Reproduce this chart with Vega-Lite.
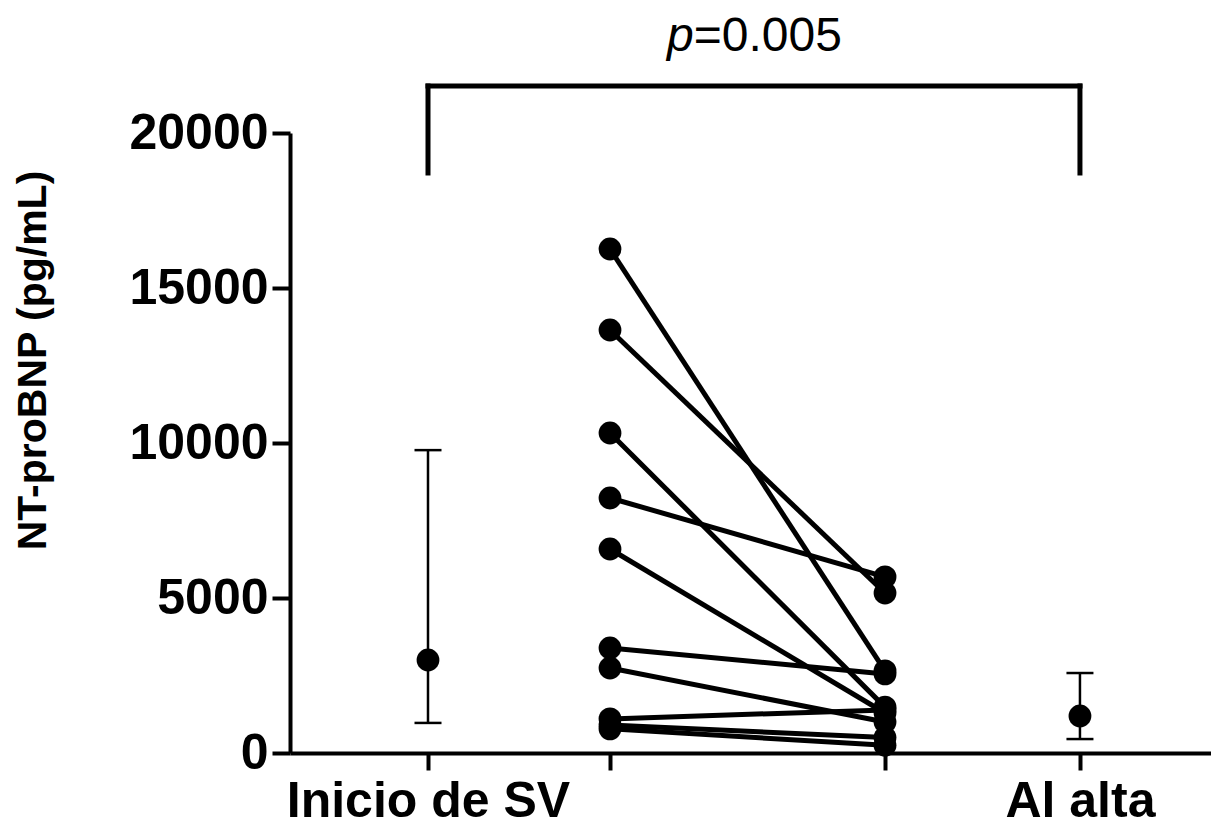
{
  "$schema": "https://vega.github.io/schema/vega-lite/v6.json",
  "width": 921,
  "height": 620,
  "autosize": {"type": "none"},
  "padding": {"left": 290, "top": 133, "right": 0, "bottom": 74},
  "background": "white",
  "config": {
    "view": {"stroke": null},
    "font": "Liberation Sans",
    "axis": {"grid": false, "domainColor": "black", "tickColor": "black", "labelColor": "black", "titleColor": "black"}
  },
  "datasets": {
    "pairs": [
      {"id": "A", "pos": 2, "value": 16258}, {"id": "A", "pos": 3.511, "value": 2650},
      {"id": "B", "pos": 2, "value": 13645}, {"id": "B", "pos": 3.511, "value": 5160},
      {"id": "C", "pos": 2, "value": 10323}, {"id": "C", "pos": 3.511, "value": 1480},
      {"id": "D", "pos": 2, "value": 8226}, {"id": "D", "pos": 3.511, "value": 5680},
      {"id": "E", "pos": 2, "value": 6581}, {"id": "E", "pos": 3.511, "value": 1290},
      {"id": "F", "pos": 2, "value": 3387}, {"id": "F", "pos": 3.511, "value": 2550},
      {"id": "G", "pos": 2, "value": 2742}, {"id": "G", "pos": 3.511, "value": 1000},
      {"id": "H", "pos": 2, "value": 1100}, {"id": "H", "pos": 3.511, "value": 1390},
      {"id": "I", "pos": 2, "value": 900}, {"id": "I", "pos": 3.511, "value": 500},
      {"id": "J", "pos": 2, "value": 780}, {"id": "J", "pos": 3.511, "value": 250}
    ],
    "summary": [
      {"group": "Inicio de SV", "pos": 1, "median": 3000, "lo": 970, "hi": 9770},
      {"group": "Al alta", "pos": 4.582, "median": 1194, "lo": 450, "hi": 2580}
    ],
    "bracket": [
      {"x": 1, "x2": 4.582, "y": 21516, "y2": 21516},
      {"x": 1, "x2": 1, "y": 18710, "y2": 21516},
      {"x": 4.582, "x2": 4.582, "y": 18710, "y2": 21516}
    ],
    "annot": [{"x": 2.46, "y": 22650, "a": "p", "b": "=0.005"}]
  },
  "layer": [
    {
      "data": {"name": "pairs"},
      "mark": {"type": "line", "color": "black", "strokeWidth": 5},
      "encoding": {
        "x": {
          "field": "pos", "type": "quantitative",
          "scale": {"domain": [0.2418, 5.302], "nice": false, "zero": false},
          "axis": {
            "values": [1, 2, 3.511, 4.582],
            "labelExpr": "datum.value == 1 ? 'Inicio de SV' : (datum.value > 4 ? 'Al alta' : '')",
            "title": null,
            "tickSize": 17, "tickWidth": 4, "domainWidth": 4,
            "labelFontSize": 50, "labelFontWeight": "bold", "labelPadding": 6,
            "labelFlush": false, "labelOverlap": false, "labelLimit": 0
          }
        },
        "y": {
          "field": "value", "type": "quantitative",
          "scale": {"domain": [0, 20000], "nice": false},
          "axis": {
            "values": [0, 5000, 10000, 15000, 20000],
            "format": "d",
            "title": "NT-proBNP (pg/mL)",
            "titleFontSize": 41, "titleFontWeight": "bold",
            "titleX": -245, "titleY": 227, "titleBaseline": "alphabetic", "titleAngle": -90,
            "titleLimit": 0,
            "tickSize": 18, "tickWidth": 4, "domainWidth": 4,
            "labelFontSize": 50, "labelFontWeight": "bold", "labelPadding": 4,
            "labelOverlap": false, "labelLimit": 0
          }
        },
        "detail": {"field": "id"}
      }
    },
    {
      "data": {"name": "pairs"},
      "mark": {"type": "point", "filled": true, "color": "black", "size": 520, "opacity": 1},
      "encoding": {
        "x": {"field": "pos", "type": "quantitative"},
        "y": {"field": "value", "type": "quantitative"}
      }
    },
    {
      "data": {"name": "summary"},
      "mark": {"type": "rule", "color": "black", "strokeWidth": 2.5},
      "encoding": {
        "x": {"field": "pos", "type": "quantitative"},
        "y": {"field": "lo", "type": "quantitative"},
        "y2": {"field": "hi"}
      }
    },
    {
      "data": {"name": "summary"},
      "mark": {"type": "tick", "orient": "horizontal", "color": "black", "size": 27, "thickness": 2.5, "opacity": 1},
      "encoding": {
        "x": {"field": "pos", "type": "quantitative"},
        "y": {"field": "lo", "type": "quantitative"}
      }
    },
    {
      "data": {"name": "summary"},
      "mark": {"type": "tick", "orient": "horizontal", "color": "black", "size": 27, "thickness": 2.5, "opacity": 1},
      "encoding": {
        "x": {"field": "pos", "type": "quantitative"},
        "y": {"field": "hi", "type": "quantitative"}
      }
    },
    {
      "data": {"name": "summary"},
      "mark": {"type": "point", "filled": true, "color": "black", "size": 520, "opacity": 1},
      "encoding": {
        "x": {"field": "pos", "type": "quantitative"},
        "y": {"field": "median", "type": "quantitative"}
      }
    },
    {
      "data": {"name": "bracket"},
      "mark": {"type": "rule", "color": "black", "strokeWidth": 5, "strokeCap": "square"},
      "encoding": {
        "x": {"field": "x", "type": "quantitative"},
        "x2": {"field": "x2"},
        "y": {"field": "y", "type": "quantitative"},
        "y2": {"field": "y2"}
      }
    },
    {
      "data": {"name": "annot"},
      "mark": {"type": "text", "align": "right", "baseline": "alphabetic", "fontSize": 48, "fontStyle": "italic", "color": "black"},
      "encoding": {
        "x": {"field": "x", "type": "quantitative"},
        "y": {"field": "y", "type": "quantitative"},
        "text": {"field": "a"}
      }
    },
    {
      "data": {"name": "annot"},
      "mark": {"type": "text", "align": "left", "baseline": "alphabetic", "fontSize": 48, "color": "black"},
      "encoding": {
        "x": {"field": "x", "type": "quantitative"},
        "y": {"field": "y", "type": "quantitative"},
        "text": {"field": "b"}
      }
    }
  ]
}
